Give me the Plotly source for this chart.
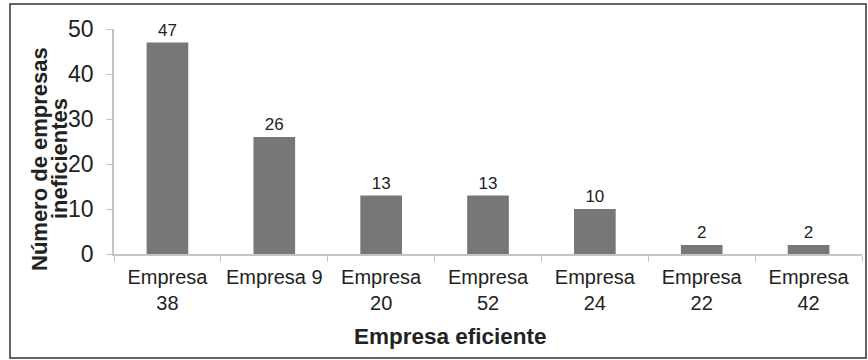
import plotly.graph_objects as go

categories = ["Empresa<br>38", "Empresa 9", "Empresa<br>20", "Empresa<br>52", "Empresa<br>24", "Empresa<br>22", "Empresa<br>42"]
values = [47, 26, 13, 13, 10, 2, 2]
x_title = "Empresa eficiente"
y_title_lines = ["Número de empresas", "ineficientes"]

W, H = 868, 360
L, R, T, B = 114, 6, 29, 106
pw, ph = W - L - R, H - T - B

def px(x):
    return (x - L) / pw

def py(y):
    return (H - B - y) / ph

font = "Arial, Liberation Sans, sans-serif"
dark = "#222222"
axis_gray = "#c4c4c4"

fig = go.Figure(go.Bar(
    x=categories, y=values,
    marker=dict(color="#77777a", line=dict(width=0)),
    text=[str(v) for v in values], textposition="outside",
    textfont=dict(size=17, color=dark, family=font),
    cliponaxis=False,
))

annotations = [
    dict(text="<b>%s</b>" % x_title, xref="paper", yref="paper",
         x=px(450), y=py(336), xanchor="center", yanchor="middle",
         showarrow=False, font=dict(size=22.5, color=dark, family=font)),
    dict(text="<b>%s</b>" % y_title_lines[0], xref="paper", yref="paper",
         x=px(39), y=py(159), xanchor="center", yanchor="middle", textangle=-90,
         showarrow=False, font=dict(size=22, color=dark, family=font)),
    dict(text="<b>%s</b>" % y_title_lines[1], xref="paper", yref="paper",
         x=px(59), y=py(159), xanchor="center", yanchor="middle", textangle=-90,
         showarrow=False, font=dict(size=22, color=dark, family=font)),
]

fig.update_layout(
    width=W, height=H,
    margin=dict(l=L, r=R, t=T, b=B),
    paper_bgcolor="white", plot_bgcolor="white",
    bargap=0.61,
    showlegend=False,
    font=dict(family=font, color=dark),
    xaxis=dict(
        showline=True, linecolor=axis_gray, linewidth=1.5,
        ticks="outside", tickson="boundaries", ticklen=6, tickcolor=axis_gray,
        tickfont=dict(size=20, color=dark),
        ticklabelstandoff=4,
        showgrid=False,
    ),
    yaxis=dict(
        range=[0, 50], tickvals=[0, 10, 20, 30, 40, 50],
        showline=True, linecolor=axis_gray, linewidth=1.5,
        ticks="outside", ticklen=6, tickcolor=axis_gray,
        tickfont=dict(size=23, color=dark),
        ticklabelstandoff=8,
        showgrid=False, zeroline=False,
    ),
    annotations=annotations,
    shapes=[dict(type="rect", xref="paper", yref="paper",
                 x0=px(10), x1=px(866), y0=py(358), y1=py(4),
                 line=dict(color="#333333", width=1.5), layer="below")],
)

fig.write_html("out.html")
